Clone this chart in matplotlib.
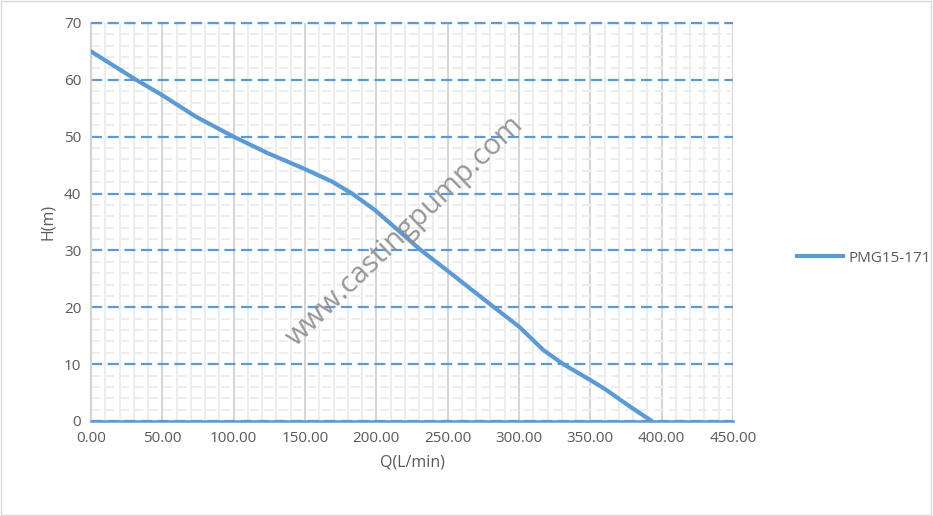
import matplotlib.pyplot as plt
from matplotlib.patches import Rectangle
from matplotlib.ticker import MultipleLocator

flow = [0, 31, 50, 73, 100, 124, 150, 169, 183, 199, 215, 231, 249, 282, 300, 317, 331, 350, 361, 378, 393]
head = [65, 60.1, 57.3, 53.6, 50, 47.1, 44.3, 42.1, 40, 37.1, 33.6, 30.1, 26.6, 20.1, 16.6, 12.5, 10, 7.2, 5.5, 2.5, 0]
series_name = 'PMG15-171'
blue = '#5B9BD5'
text_color = '#595959'

plt.rcParams['font.family'] = ['Open Sans', 'DejaVu Sans']

fig = plt.figure(figsize=(9.33, 5.16), dpi=100)
ax = fig.add_axes([91 / 933, 1 - 421 / 516, 642 / 933, 398 / 516])

ax.plot(flow, head, color=blue, linewidth=3.0, solid_joinstyle='round', zorder=5, label=series_name)

ax.set_xlim(0, 450)
ax.set_ylim(0, 70)
ax.xaxis.set_major_locator(MultipleLocator(50))
ax.xaxis.set_minor_locator(MultipleLocator(10))
ax.yaxis.set_major_locator(MultipleLocator(10))
ax.yaxis.set_minor_locator(MultipleLocator(2))
ax.xaxis.set_major_formatter(lambda v, p: f'{v:.2f}')

ax.grid(axis='x', which='minor', color='#ececec', linewidth=1.3, zorder=0)
ax.grid(axis='x', which='major', color='#d4d4d4', linewidth=1.4, zorder=1)
ax.grid(axis='y', which='minor', color='#ececec', linewidth=1.3, linestyle=(0, (5, 3)), zorder=1)
ax.grid(axis='y', which='major', color=blue, linewidth=1.6, linestyle=(0, (5, 2.5)), zorder=2)
ax.set_axisbelow(True)

for s in ['top', 'right', 'bottom', 'left']:
    ax.spines[s].set_visible(False)
ax.axhline(70, color=blue, linewidth=1.6, linestyle=(0, (5, 2.5)), clip_on=False, zorder=3)
ax.axhline(0, color=blue, linewidth=1.8, clip_on=False, zorder=3)
ax.axvline(0, color='#d4d4d4', linewidth=1.6, clip_on=False, zorder=1)

ax.tick_params(which='both', length=0, labelsize=11, labelcolor=text_color, pad=7)
ax.set_xlabel('Q(L/min)', fontsize=11.5, color=text_color, labelpad=6)
ax.set_ylabel('H(m)', fontsize=11.5, color=text_color, labelpad=6)

fig.text(405 / 933, 1 - 231 / 516, 'www.castingpump.com', rotation=44, fontsize=21,
         color='#8c8c8c', alpha=0.9, ha='center', va='center', zorder=10)

leg = fig.legend(loc='center left', bbox_to_anchor=(783 / 933, 1 - 258 / 516), frameon=False,
                 fontsize=11, handlelength=3, handletextpad=0.4, labelcolor=text_color)

fig.patches.append(Rectangle((0.001, 0.001), 0.997, 0.997, transform=fig.transFigure,
                             fill=False, edgecolor='#d9d9d9', linewidth=1))

fig.savefig('out.png', dpi=100)
